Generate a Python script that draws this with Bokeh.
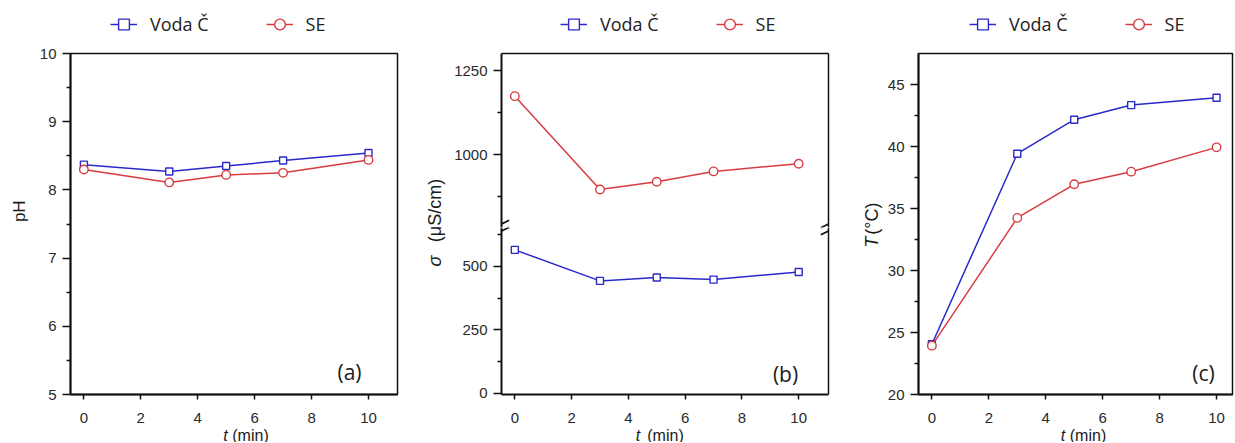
from math import pi
from bokeh.plotting import figure
from bokeh.layouts import row, column
from bokeh.models import Range1d, FixedTicker, Legend, LegendItem, Label, LinearAxis
from bokeh.embed import file_html
from bokeh.resources import INLINE

# ---------------- data ----------------
t_min = [0, 3, 5, 7, 10]
series_names = ["Voda Č", "SE"]
ph_voda = [8.37, 8.27, 8.35, 8.43, 8.54]
ph_se = [8.30, 8.11, 8.22, 8.25, 8.44]
sigma_voda = [565, 443, 456, 448, 478]
sigma_se = [1175, 897, 920, 951, 974]
temp_voda = [24.05, 39.42, 42.16, 43.34, 43.93]
temp_se = [23.94, 34.24, 36.95, 37.97, 39.93]

x_ticks = [0, 2, 4, 6, 8, 10]
ph_ticks = [5, 6, 7, 8, 9, 10]
ph_minor = [5.5, 6.5, 7.5, 8.5, 9.5]
sig_low_ticks = [0, 250, 500]
sig_low_minor = [125, 375, 625]
sig_up_ticks = [1000, 1250]
sig_up_minor = [875, 1125]
temp_ticks = [20, 25, 30, 35, 40, 45]
temp_minor = [22.5, 27.5, 32.5, 37.5, 42.5]
panel_tags = ["(a)", "(b)", "(c)"]

# ---------------- style ----------------
BLUE = "#2a2acb"
RED = "#d83c40"
TICK_FONT = "Liberation Sans"
LEG_H = 40      # legend strip height
MT = 13         # top border of main figures (frame top at 53)
MB = 33         # bottom border of main figures (frame bottom at 394)
FRAME_H = 341
MAIN_H = MT + FRAME_H + MB
XLAB_H = 15     # x-label strip height
XSTAND = 13


def base_fig(width, height, xr, yr, ml=0, mr=0, mt=0, mb=0):
    p = figure(width=width, height=height, x_range=Range1d(*xr), y_range=Range1d(*yr),
               output_backend="svg", toolbar_location=None,
               x_axis_location=None, y_axis_location=None,
               min_border_left=ml, min_border_right=mr, min_border_top=mt, min_border_bottom=mb,
               background_fill_color="white", border_fill_color="white",
               outline_line_color=None)
    p.grid.visible = False
    return p


def strip(width, height):
    return base_fig(width, height, (0, width), (0, height))


def style_axis(ax, ticks, minor, tick_out=8, standoff=6, width=2):
    ax.ticker = FixedTicker(ticks=ticks, minor_ticks=minor)
    ax.axis_line_width = width
    ax.axis_line_color = "#111111"
    ax.major_tick_line_color = "#111111"
    ax.minor_tick_line_color = "#111111"
    ax.major_tick_line_width = 1.5
    ax.minor_tick_line_width = 1.5
    ax.major_tick_out = tick_out
    ax.major_tick_in = 0
    ax.minor_tick_out = 4
    ax.minor_tick_in = 0
    ax.major_label_text_font = TICK_FONT
    ax.major_label_text_font_size = "15px"
    ax.major_label_text_color = "#2a2a2a"
    ax.major_label_standoff = standoff


def frame_axis(p, side):
    ax = LinearAxis()
    ax.ticker = FixedTicker(ticks=[], minor_ticks=[])
    ax.axis_line_width = 1.5
    ax.axis_line_color = "#111111"
    ax.major_tick_out = 0
    ax.major_tick_in = 0
    ax.minor_tick_out = 0
    ax.minor_tick_in = 0
    ax.major_label_text_font_size = "0px"
    p.add_layout(ax, side)


def add_series(p, xs, yv, ys):
    lv = p.line(xs, yv, line_color=BLUE, line_width=1.5)
    sv = p.scatter(xs, yv, marker="square", size=7, fill_color="white",
                   line_color=BLUE, line_width=1.4)
    ls = p.line(xs, ys, line_color=RED, line_width=1.5)
    ss = p.scatter(xs, ys, marker="circle", size=8.5, fill_color="white",
                   line_color=RED, line_width=1.4)
    return [lv, sv], [ls, ss]


def legend_strip(width, x, yv, ys):
    # the series are plotted out of view here; only their legend entries show
    lf = base_fig(width, LEG_H, (-1000, -1000 + width), (-1000, -1000 + LEG_H))
    rv, rs = add_series(lf, t_min, yv, ys)
    leg = Legend(items=[LegendItem(label=series_names[0], renderers=rv),
                        LegendItem(label=series_names[1], renderers=rs)],
                 location=(x, 1), orientation="horizontal",
                 glyph_width=27, glyph_height=30, label_standoff=13, spacing=57,
                 padding=0, margin=0, border_line_color=None, background_fill_alpha=0,
                 label_text_font="Open Sans", label_text_font_size="18px",
                 label_text_color="#222222")
    lf.add_layout(leg)
    return lf


class Conv:
    def __init__(self, fl, fw, xr, ft, fh, yr):
        self.fl, self.fw, self.xr, self.ft, self.fh, self.yr = fl, fw, xr, ft, fh, yr

    def x(self, sx):
        return self.xr[0] + (sx - self.fl) / self.fw * (self.xr[1] - self.xr[0])

    def y(self, sy):
        return self.yr[1] - (sy - self.ft) / self.fh * (self.yr[1] - self.yr[0])


def text(p, c, sx, sy, s, size, style="normal", angle=0, font="Liberation Sans", color="#1a1a1a"):
    p.add_layout(Label(x=c.x(sx), y=c.y(sy), text=s, text_font=font, text_font_size=size,
                       text_font_style=style, angle=angle, text_align="center",
                       text_baseline="middle", text_color=color))


def xlabel_strip(left, width, sx_t, sx_min):
    f = strip(width, XLAB_H)
    c = Conv(left, width, (0, width), LEG_H + MAIN_H, XLAB_H, (0, XLAB_H))
    text(f, c, sx_t, 434.5, "t", "16px", style="italic")
    text(f, c, sx_min, 434.5, "(min)", "16px")
    return f


def ylabel_strip(left, width):
    f = strip(width, MAIN_H)
    c = Conv(left, width, (0, width), LEG_H, MAIN_H, (0, MAIN_H))
    return f, c


# ---------------- panel (a) ----------------
xa = (-0.47, 11.02)
ya = (5, 10)
pa = base_fig(380, MAIN_H, xa, ya, 40, 13, MT, MB)
pa.outline_line_color = "#111111"
pa.outline_line_width = 1.5
ax = LinearAxis(); style_axis(ax, ph_ticks, ph_minor); pa.add_layout(ax, "left")
bx = LinearAxis(); style_axis(bx, x_ticks, [], tick_out=5, standoff=XSTAND); pa.add_layout(bx, "below")
add_series(pa, t_min, ph_voda, ph_se)
ca = Conv(70, 327, xa, 53, FRAME_H, ya)
text(pa, ca, 349, 371, panel_tags[0], "21px", font="Open Sans")
yla, cya = ylabel_strip(0, 30)
text(yla, cya, 19, 219, "pH", "17px", angle=pi / 2)
panel_a = column(legend_strip(410, 110, ph_voda, ph_se),
                 row(yla, pa),
                 xlabel_strip(0, 410, 225, 250))

# ---------------- panel (b) ----------------
xb = (-0.47, 11.05)
yb_up = (784, 1302)
yb_low = (-4, 653)
H_UP = MT + 174
H_LOW = MAIN_H - H_UP
pb_up = base_fig(394, H_UP, xb, yb_up, 55, 12, MT, 0)
ax = LinearAxis(); style_axis(ax, sig_up_ticks, sig_up_minor); pb_up.add_layout(ax, "left")
frame_axis(pb_up, "right")
frame_axis(pb_up, "above")
add_series(pb_up, t_min, sigma_voda, sigma_se)

pb_low = base_fig(394, H_LOW, xb, yb_low, 55, 12, 0, MB)
ax = LinearAxis(); style_axis(ax, sig_low_ticks, sig_low_minor); pb_low.add_layout(ax, "left")
bx = LinearAxis(); style_axis(bx, x_ticks, [], tick_out=5, standoff=XSTAND); pb_low.add_layout(bx, "below")
frame_axis(pb_low, "right")
add_series(pb_low, t_min, sigma_voda, sigma_se)
cbl = Conv(501, 327, xb, 227, 167, yb_low)
cbu = Conv(501, 327, xb, 53, 174, yb_up)
text(pb_low, cbl, 785, 373, panel_tags[1], "21px", font="Open Sans")

# axis-break marks "//" (each canvas draws its own part; they join at the break)
for fig, cv in ((pb_up, cbu), (pb_low, cbl)):
    bx_ = [cv.x(501), cv.x(501), cv.x(828), cv.x(828)]
    by_ = [cv.y(223.5), cv.y(230.5), cv.y(223.5), cv.y(230.5)]
    fig.scatter(bx_, by_, marker="dash", size=17, angle=0.45,
                line_color="#111111", line_width=1.6)

ylb, cyb = ylabel_strip(410, 36)
text(ylb, cyb, 434, 260.5, "σ", "18px", style="italic", angle=pi / 2)
text(ylb, cyb, 434, 210, "(μS/cm)", "18px", angle=pi / 2)
panel_b = column(legend_strip(430, 150, sigma_voda, sigma_se),
                 row(ylb, column(pb_up, pb_low)),
                 xlabel_strip(410, 430, 637.5, 665))

# ---------------- panel (c) ----------------
xc = (-0.47, 10.56)
yc = (20, 47.5)
pc = base_fig(350, MAIN_H, xc, yc, 34, 2, MT, MB)
pc.outline_line_color = "#111111"
pc.outline_line_width = 1.5
ax = LinearAxis(); style_axis(ax, temp_ticks, temp_minor); pc.add_layout(ax, "left")
bx = LinearAxis(); style_axis(bx, x_ticks, [], tick_out=5, standoff=XSTAND); pc.add_layout(bx, "below")
add_series(pc, t_min, temp_voda, temp_se)
cc = Conv(918, 314, xc, 53, FRAME_H, yc)
text(pc, cc, 1203, 372, panel_tags[2], "21px", font="Open Sans")
ylc, cyc = ylabel_strip(840, 44)
text(ylc, cyc, 871.5, 254, "T", "18px", style="italic", angle=pi / 2)
text(ylc, cyc, 871.5, 227.5, "(°C)", "18px", angle=pi / 2)
panel_c = column(legend_strip(394, 129, temp_voda, temp_se),
                 row(ylc, pc),
                 xlabel_strip(840, 394, 1062.5, 1087.5))

layout = row(panel_a, panel_b, panel_c)
open("out.html", "w").write(file_html(layout, INLINE))
